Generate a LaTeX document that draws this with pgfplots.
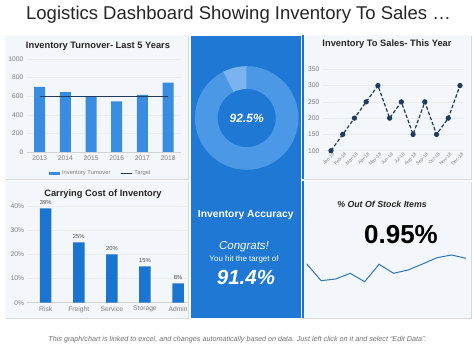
\documentclass[border=0pt]{standalone}
\usepackage{fontspec}
\setmainfont{Liberation Sans}
\usepackage{pgfplots}
\pgfplotsset{compat=1.18}
\newcommand{\fs}[1]{\fontsize{#1}{#1}\selectfont}
\definecolor{panelbg}{HTML}{F3F6FA}
\definecolor{panelline}{HTML}{D3D8DE}
\definecolor{midblue}{HTML}{1E78D4}
\definecolor{ringblue}{HTML}{4A98E6}
\definecolor{ringlight}{HTML}{7AB4EE}
\definecolor{barA}{HTML}{3A8CE0}
\definecolor{barB}{HTML}{1A74D0}
\definecolor{navy}{HTML}{1F3B5E}
\definecolor{ticktext}{HTML}{7F7F7F}
\definecolor{lineblue}{HTML}{2E76BE}
\pgfplotsset{dash panel/.style={scale only axis, anchor=south west,
  /pgf/number format/assume math mode=true, /pgf/number format/1000 sep={},
  tick style={draw=none}, ticklabel style={font=\fs{6.7}, text=ticktext},
  ymajorgrids, grid style={gray!15, line width=0.4pt},
  axis x line*=bottom, axis y line*=left,
  y axis line style={draw=none}, x axis line style={gray!35}}}
\begin{document}
\begin{tikzpicture}
\path[use as bounding box, fill=white] (0,0) rectangle (474pt,355pt);
% panels
\fill[gray!30] (6pt,175pt) rectangle (188.7pt,319pt);
\fill[panelbg] (5pt,176pt) rectangle (187.7pt,320pt);
\fill[gray!30] (303pt,175pt) rectangle (472pt,319pt);
\fill[panelbg] (302pt,176pt) rectangle (471pt,320pt);
\fill[barB] (302pt,176pt) rectangle (303.5pt,320pt);
\fill[gray!30] (6pt,36pt) rectangle (188.7pt,173pt);
\fill[panelbg] (5pt,37pt) rectangle (187.7pt,174pt);
\fill[gray!30] (303pt,36pt) rectangle (472pt,173pt);
\fill[panelbg] (302pt,37pt) rectangle (471pt,174pt);
\fill[barB] (302pt,37pt) rectangle (303.5pt,174pt);
\fill[midblue] (190.7pt,37pt) rectangle (300.7pt,319pt);
% donut
\def\acc{92.5}
\pgfmathsetmacro{\endang}{90-3.6*\acc}
\fill[ringblue] (246.7pt,237pt) -- ++(90:51.8pt) arc[start angle=90, end angle=\endang, radius=51.8pt] -- cycle;
\fill[ringlight] (246.7pt,237pt) -- ++(90:51.8pt) arc[start angle=90, end angle=\endang+360, radius=51.8pt] -- cycle;
\fill[midblue] (246.7pt,237pt) circle (29pt);
% panel 1
\begin{axis}[dash panel, at={(26.9pt,203pt)}, width=154pt, height=93pt,
  xmin=-0.5, xmax=5.5, ymin=0, ymax=1000, ytick={0,200,...,1000},
  xtick={0,...,5}, xticklabels={2013,2014,2015,2016,2017,2018},
  legend style={at={(0.48,-0.226)}, anchor=center, draw=none, fill=none,
    font=\fs{5.8}, text=ticktext, legend columns=2,
    /tikz/every even column/.append style={column sep=8pt}},
  legend cell align=left]
\addplot[ybar, bar width=11pt, fill=barA, draw=none,
  legend image code/.code={\fill[barA] (0pt,-1.5pt) rectangle (11pt,1.5pt);}]
  coordinates {(0,700) (1,645) (2,595) (3,545) (4,615) (5,745)};
\addlegendentry{Inventory Turnover}
\addplot[navy, line width=1pt,
  legend image code/.code={\draw[navy, line width=1pt] (0pt,0pt) -- (11pt,0pt);}]
  coordinates {(0,595) (5,595)};
\addlegendentry{Target}
\end{axis}
\node[font=\bfseries\fs{9.3}, text=black!85] at (98pt,309pt) {Inventory Turnover- Last 5 Years};
% panel 2
\begin{axis}[dash panel, at={(322.8pt,204.3pt)}, width=140.7pt, height=81.4pt,
  xmin=-0.7, xmax=11.3, ymin=100, ymax=350, ytick={100,150,...,350},
  xtick={0,...,11},
  xticklabels={Jan-18,Feb-18,Mar-18,Apr-18,May-18,Jun-18,Jul-18,Aug-18,Sep-18,Oct-18,Nov-18,Dec-18},
  xticklabel style={rotate=45, anchor=north east, font=\fs{4.7}, inner sep=0pt, yshift=-2pt},
  x axis line style={draw=none}, clip=false]
\addplot[navy, line width=1.2pt, dash pattern=on 3.5pt off 2pt, mark=*, mark size=2pt,
  mark options={solid, fill=navy}]
  coordinates {(0,100) (1,150) (2,200) (3,250) (4,300) (5,200) (6,250) (7,150) (8,250) (9,150) (10,200) (11,300)};
\end{axis}
\node[font=\bfseries\fs{9.3}, text=black!85] at (387pt,311pt) {Inventory To Sales- This Year};
% panel 3
\begin{axis}[dash panel, at={(27.5pt,52.3pt)}, width=160.5pt, height=96.7pt,
  xmin=-0.55, xmax=4.3, ymin=0, ymax=40, ytick={0,10,...,40},
  yticklabel={\pgfmathprintnumber{\tick}\%},
  xtick={0,...,4}, xticklabels={Risk,Freight,Service,Storage,Admin}, clip=false]
\addplot[ybar, bar width=11.5pt, fill=barB, draw=none,
  nodes near coords={\pgfmathprintnumber{\pgfplotspointmeta}\%},
  every node near coord/.append style={font=\fs{5.8}, text=black!70}]
  coordinates {(0,39) (1,25) (2,20) (3,15) (4,8)};
\end{axis}
\node[font=\bfseries\fs{9.3}, text=black!85] at (103pt,161pt) {Carrying Cost of Inventory};
% panel 4
\begin{axis}[at={(306.7pt,55pt)}, anchor=south west, scale only axis, width=159.3pt, height=100pt,
  xmin=0, xmax=11, ymin=0, ymax=100, hide axis]
\addplot[lineblue, line width=1pt]
  coordinates {(0,36) (1,19.3) (2,21) (3,26.7) (4,18.3) (5,35.7) (6,26.7) (7,30) (8,36) (9,42.3) (10,45) (11,41.7)};
\end{axis}
\node[font=\bfseries\itshape\fs{8.8}, text=black!85] at (382pt,151pt) {\% Out Of Stock Items};
\node[font=\bfseries\fs{26}, text=black] at (401pt,120pt) {0.95\%};
% middle texts
\node[font=\bfseries\itshape\fs{12}, text=white] at (246.7pt,237pt) {92.5\%};
\node[font=\bfseries\fs{10.3}, text=white] at (245.7pt,140pt) {Inventory Accuracy};
\node[font=\itshape\fs{11.5}, text=white] at (244pt,108.3pt) {Congrats!};
\node[font=\fs{8}, text=white] at (244pt,96pt) {You hit the target of};
\node[font=\bfseries\itshape\fs{20.5}, text=white] at (246pt,78pt) {91.4\%};
% title and footer
\node[font=\fs{18.5}, text=black!85] at (238.5pt,340pt) {Logistics Dashboard Showing Inventory To Sales \dots};
\node[font=\itshape\fs{7.2}, text=black!55] at (237.5pt,15pt) {This graph/chart is linked to excel, and changes automatically based on data. Just left click on it and select ``Edit Data''.};
\end{tikzpicture}
\end{document}
